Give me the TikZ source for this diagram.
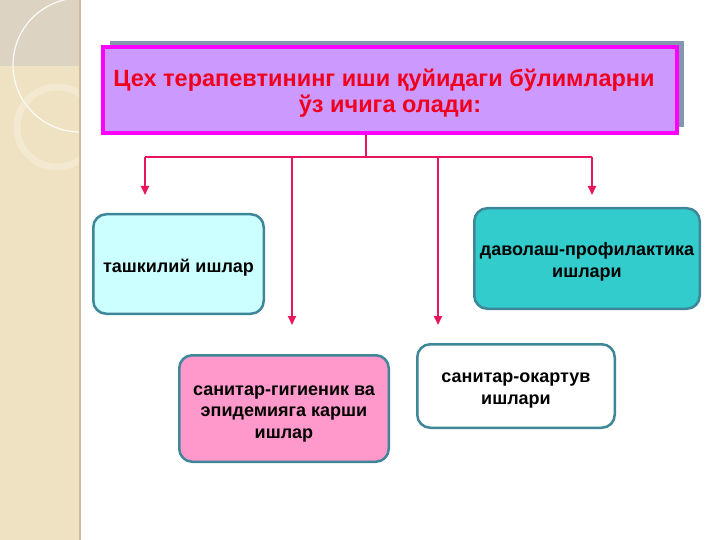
\documentclass[tikz,border=0pt]{standalone}
\usepackage{fontspec}
\setmainfont{Liberation Sans}
\usetikzlibrary{arrows.meta,shadows}
\definecolor{ttlfill}{HTML}{CC99FF}
\definecolor{ttlline}{HTML}{FF00FF}
\definecolor{ttltext}{HTML}{F0001E}
\definecolor{shdcol}{HTML}{8496B0}
\definecolor{lnkcol}{HTML}{E8175D}
\definecolor{boxline}{HTML}{3E8798}
\definecolor{fill0}{HTML}{CCFFFF}
\definecolor{fill1}{HTML}{33CCCC}
\definecolor{fill2}{HTML}{FF99CC}
\definecolor{stripe}{HTML}{EEE2C2}
\definecolor{stripetop}{HTML}{DCD3C3}
\definecolor{stripeedge}{HTML}{CDBD9C}
\begin{document}
\begin{tikzpicture}[x=1pt,y=-1pt,
  ttl/.style={rectangle, draw=ttlline, line width=4pt, fill=ttlfill, text=ttltext, align=center,
    font=\fontsize{23.5}{26}\selectfont\bfseries,
    general shadow={fill=shdcol, shadow xshift=7pt, shadow yshift=6pt}},
  box/.style={rectangle, rounded corners=13pt, draw=boxline, line width=2.5pt, align=center,
    font=\fontsize{18}{21.5}\selectfont\bfseries, inner sep=2pt},
  lnk/.style={draw=lnkcol, line width=2pt},
  arr/.style={lnk, -{Triangle[length=9pt,width=8pt]}}]
\useasboundingbox (0,0) rectangle (720,540);
\fill[white] (0,0) rectangle (720,540);
\fill[stripe] (0,0) rectangle (80,540);
\fill[stripetop] (0,0) rectangle (80,66);
\begin{scope}
\clip (0,0) rectangle (80,540);
\draw[white!85!stripe, line width=1.2pt] (80,65) circle (67);
\draw[white!55!stripe, line width=7pt, opacity=0.45] (57,127) circle (40);
\end{scope}
\draw[stripeedge, line width=1.5pt] (80,0) -- (80,540);

\node[ttl, minimum width=574pt, minimum height=86pt, text height=51pt, text depth=5pt] (ttl) at (390,90) {Цех терапевтининг иши қуйидаги бўлимларни\hspace*{12pt}\\ўз ичига олади:};
\node[box, fill=fill0, minimum width=170.5pt, minimum height=99.5pt, text height=20pt, text depth=4pt] (bx0) at (178.5,264) {ташкилий ишлар};
\node[box, fill=fill1, minimum width=225.5pt, minimum height=100.5pt, text height=41pt, text depth=4pt] (bx1) at (587,258.5) {даволаш-профилактика\\ишлари};
\node[box, fill=fill2, minimum width=209.5pt, minimum height=106.5pt, text height=63pt, text depth=4pt] (bx2) at (284,408.5) {санитар-гигиеник ва\\эпидемияга карши\\ишлар};
\node[box, fill=white, minimum width=197.5pt, minimum height=83.5pt, text height=40pt, text depth=4pt] (bx3) at (516,386) {санитар-окартув\\ишлари};

\coordinate (jn0) at (366,157);
\coordinate (bus0) at (145,157);
\coordinate (bus1) at (292,157);
\coordinate (bus2) at (438,157);
\coordinate (bus3) at (592,157);
\coordinate (tip0) at (145,195);
\coordinate (tip1) at (292,325);
\coordinate (tip2) at (438,325);
\coordinate (tip3) at (592,195);
\draw[lnk](ttl.south -| jn0) -- (jn0);
\draw[lnk](bus0) -- (bus3);
\draw[arr](bus0) -- (tip0);
\draw[arr](bus1) -- (tip1);
\draw[arr](bus2) -- (tip2);
\draw[arr](bus3) -- (tip3);

\end{tikzpicture}
\end{document}
